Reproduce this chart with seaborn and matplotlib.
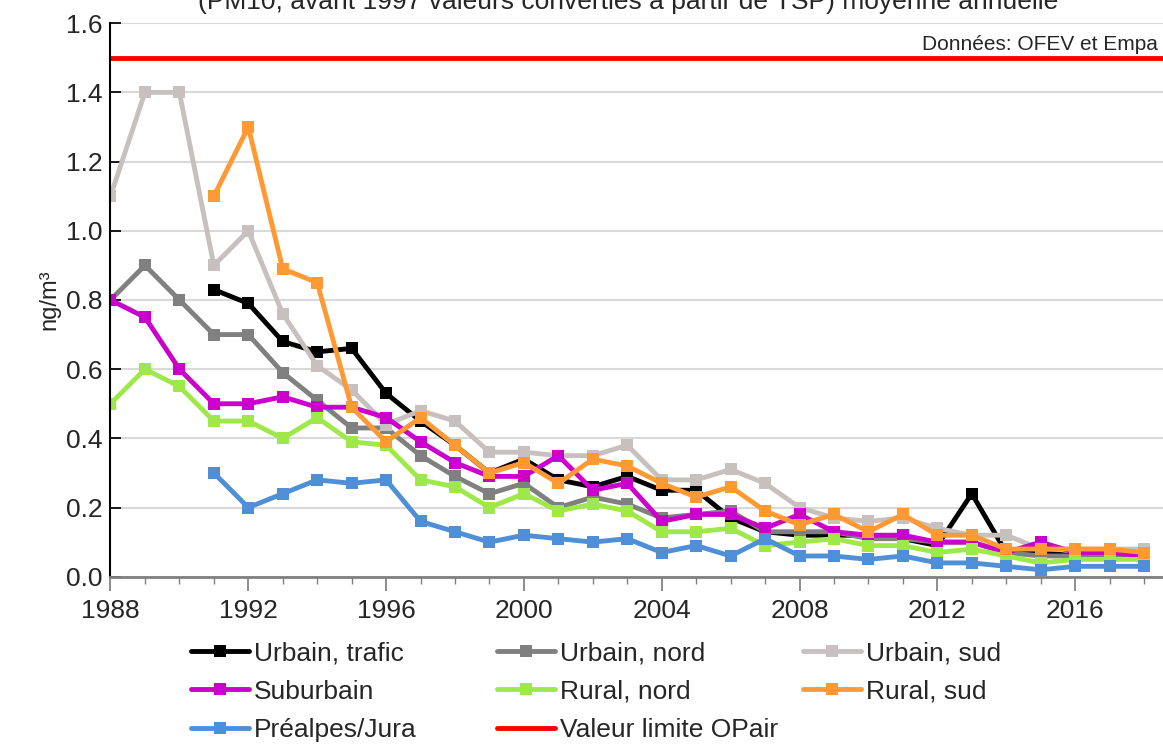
import numpy as np
import pandas as pd
import matplotlib
matplotlib.use("Agg")
import matplotlib.pyplot as plt
import seaborn as sns
from matplotlib.ticker import MultipleLocator

sns.set_theme(style="white")
plt.rcParams["font.family"] = ["Liberation Sans", "DejaVu Sans"]

YEARS = list(range(1988, 2019))
urbain_trafic = [None] * 3 + [0.83, 0.79, 0.68, 0.65, 0.66, 0.53, 0.45, 0.38, 0.30, 0.34, 0.28, 0.26, 0.29,
                              0.25, 0.25, 0.17, 0.13, 0.12, 0.12, 0.12, 0.11, 0.09, 0.24, 0.07, 0.07, 0.06, 0.06, 0.06]
urbain_nord = [0.80, 0.90, 0.80, 0.70, 0.70, 0.59, 0.51, 0.43, 0.43, 0.35, 0.29, 0.24, 0.27, 0.20, 0.23, 0.21,
               0.17, 0.18, 0.19, 0.13, 0.13, 0.13, 0.11, 0.11, 0.10, 0.10, 0.07, 0.06, 0.06, 0.06, 0.06]
urbain_sud = [1.10, 1.40, 1.40, 0.90, 1.00, 0.76, 0.61, 0.54, 0.44, 0.48, 0.45, 0.36, 0.36, 0.35, 0.35, 0.38,
              0.28, 0.28, 0.31, 0.27, 0.20, 0.17, 0.16, 0.17, 0.14, 0.12, 0.12, 0.08, 0.08, 0.08, 0.08]
suburbain = [0.80, 0.75, 0.60, 0.50, 0.50, 0.52, 0.49, 0.49, 0.46, 0.39, 0.33, 0.29, 0.29, 0.35, 0.25, 0.27,
             0.16, 0.18, 0.18, 0.14, 0.18, 0.13, 0.12, 0.12, 0.10, 0.10, 0.07, 0.10, 0.07, 0.07, 0.06]
rural_nord = [0.50, 0.60, 0.55, 0.45, 0.45, 0.40, 0.46, 0.39, 0.38, 0.28, 0.26, 0.20, 0.24, 0.19, 0.21, 0.19,
              0.13, 0.13, 0.14, 0.09, 0.10, 0.11, 0.09, 0.09, 0.07, 0.08, 0.06, 0.04, 0.05, 0.05, 0.05]
rural_sud = [None] * 3 + [1.10, 1.30, 0.89, 0.85, 0.49, 0.39, 0.46, 0.38, 0.30, 0.33, 0.27, 0.34, 0.32,
                          0.27, 0.23, 0.26, 0.19, 0.15, 0.18, 0.13, 0.18, 0.12, 0.12, 0.08, 0.08, 0.08, 0.08, 0.07]
prealpes = [None] * 3 + [0.30, 0.20, 0.24, 0.28, 0.27, 0.28, 0.16, 0.13, 0.10, 0.12, 0.11, 0.10, 0.11,
                         0.07, 0.09, 0.06, 0.11, 0.06, 0.06, 0.05, 0.06, 0.04, 0.04, 0.03, 0.02, 0.03, 0.03, 0.03]
LIMIT = 1.5

SERIES = [
    ("Urbain, trafic", urbain_trafic, "#000000"),
    ("Urbain, nord", urbain_nord, "#808080"),
    ("Urbain, sud", urbain_sud, "#c8c0be"),
    ("Suburbain", suburbain, "#cc00cc"),
    ("Rural, nord", rural_nord, "#9fe84a"),
    ("Rural, sud", rural_sud, "#ff9933"),
    ("Préalpes/Jura", prealpes, "#4f8fd8"),
]

fig = plt.figure(figsize=(11.63, 7.49), dpi=100)
ax = fig.add_axes([0.095, 0.230, 0.905, 0.739])

for name, vals, color in SERIES:
    df = pd.DataFrame({"year": YEARS, "v": pd.array(vals, dtype="Float64").astype(float)}).dropna()
    sns.lineplot(data=df, x="year", y="v", ax=ax, color=color, lw=3.5, marker="s",
                 markersize=9, markeredgewidth=0, label=name, legend=False)
ax.axhline(LIMIT, color="#ff0000", lw=3.5, label="Valeur limite OPair")

ax.set_xlim(1988, 2018.55)
ax.set_ylim(0, 1.6)
ax.xaxis.set_major_locator(MultipleLocator(4))
ax.xaxis.set_minor_locator(MultipleLocator(1))
ax.yaxis.set_major_locator(MultipleLocator(0.2))
ax.yaxis.set_major_formatter(matplotlib.ticker.FormatStrFormatter("%.1f"))
ax.grid(axis="y", color="#d9d9d9", lw=1.5)
ax.tick_params(axis="both", labelsize=19, direction="in", length=0, pad=6)
ax.tick_params(axis="x", which="both", direction="out", bottom=True, color="#808080")
ax.tick_params(axis="x", which="major", length=10)
ax.tick_params(axis="x", which="minor", length=5)
ax.tick_params(axis="y", left=True, length=8, direction="in", color="black")
for s in ["top", "right"]:
    ax.spines[s].set_visible(False)
ax.spines["left"].set_color("black")
ax.spines["left"].set_linewidth(1.5)
ax.spines["bottom"].set_color("#808080")
ax.spines["bottom"].set_linewidth(2)
ax.set_xlabel("")
ax.set_ylabel("ng/m³", fontsize=17)

ax.text(0.995, 1.51, "Données: OFEV et Empa", ha="right", va="bottom", fontsize=15,
        transform=ax.get_yaxis_transform())
fig.text(0.54, 0.997, "(PM10, avant 1997 valeurs converties à partir de TSP) moyenne annuelle",
         ha="center", va="center", fontsize=19)

# three fixed-width legend columns, filled row by row like the reference
h, l = ax.get_legend_handles_labels()
cols = [[0, 3, 6], [1, 4, 7], [2, 5]]
for x0, idx in zip([0.155, 0.418, 0.681], cols):
    leg = fig.legend([h[i] for i in idx], [l[i] for i in idx], loc="upper left",
                     bbox_to_anchor=(x0, 0.158), frameon=False, fontsize=19, handlelength=2.2,
                     labelspacing=0.55, borderaxespad=0, handletextpad=0.2)

fig.savefig("out.png", dpi=100)
